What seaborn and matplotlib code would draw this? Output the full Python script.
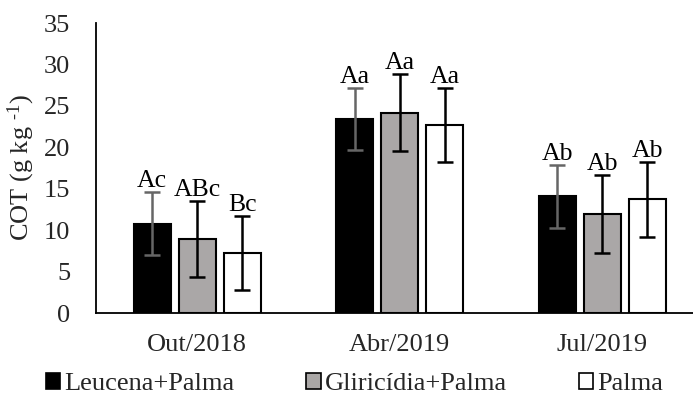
import matplotlib
matplotlib.use("Agg")
import matplotlib.pyplot as plt
import seaborn as sns
import pandas as pd
from matplotlib.patches import Patch

# ---- data ----
periods = ["Out/2018", "Abr/2019", "Jul/2019"]
treatments = ["Leucena+Palma", "Gliricídia+Palma", "Palma"]
leucena_mean = [10.8, 23.4, 14.1]
leucena_sd = [3.8, 3.75, 3.8]
gliricidia_mean = [8.9, 24.15, 11.9]
gliricidia_sd = [4.6, 4.65, 4.7]
palma_mean = [7.25, 22.7, 13.7]
palma_sd = [4.45, 4.45, 4.5]
leucena_letters = ["Ac", "Aa", "Ab"]
gliricidia_letters = ["ABc", "Aa", "Ab"]
palma_letters = ["Bc", "Aa", "Ab"]
yticks = [0, 5, 10, 15, 20, 25, 30, 35]

means = [leucena_mean, gliricidia_mean, palma_mean]
sds = [leucena_sd, gliricidia_sd, palma_sd]
letters = [leucena_letters, gliricidia_letters, palma_letters]

rows = []
for t, m in zip(treatments, means):
    for p, v in zip(periods, m):
        rows.append({"Período": p, "Tratamento": t, "COT": v})
df = pd.DataFrame(rows)

sns.set_style("white")
plt.rcParams["font.family"] = ["Liberation Serif", "DejaVu Serif"]
plt.rcParams["mathtext.fontset"] = "custom"
plt.rcParams["mathtext.rm"] = "Liberation Serif"
plt.rcParams["mathtext.it"] = "Liberation Serif:italic"
plt.rcParams["mathtext.bf"] = "Liberation Serif:bold"

FS = 19

colors = ["#000000", "#aaa7a6", "#ffffff"]
err_colors = ["#666666", "#000000", "#000000"]

fig = plt.figure(figsize=(6.93, 3.94), dpi=100)
ax = fig.add_axes([96 / 693, 1 - 313 / 394, 607.5 / 693, 290 / 394])

sns.barplot(data=df, x="Período", y="COT", hue="Tratamento",
            order=periods, hue_order=treatments, palette=colors,
            width=0.667, gap=0.18, edgecolor="black", linewidth=1.5,
            errorbar=None, legend=False, ax=ax)

bar_conts = list(ax.containers)
for i, cont in enumerate(bar_conts):
    for j, bar in enumerate(cont.patches):
        xc = bar.get_x() + bar.get_width() / 2
        h = bar.get_height()
        ax.errorbar(xc, h, yerr=sds[i][j], fmt="none", ecolor=err_colors[i],
                    elinewidth=1.8, capsize=5.5, capthick=1.8, zorder=5)
        ax.text(xc, h + sds[i][j], letters[i][j], ha="center", va="bottom",
                fontsize=18.5, color="black", zorder=6)

ax.set_ylim(0, 35)
ax.set_xlim(-0.5, 2.5)
ax.set_yticks(yticks)
ax.set_yticklabels([str(v) for v in yticks], fontsize=FS)
ax.tick_params(axis="y", length=0, pad=18.5)
ax.tick_params(axis="x", length=0, pad=15, labelsize=FS)
ax.set_xlabel("")
ax.set_ylabel("COT (g kg $^{\\text{-1}}$)", fontsize=FS, labelpad=5)

for s in ["top", "right"]:
    ax.spines[s].set_visible(False)
for s in ["left", "bottom"]:
    ax.spines[s].set_color("black")
    ax.spines[s].set_linewidth(1.3)

handles = [Patch(facecolor=c, edgecolor="black", linewidth=1.2) for c in colors]
fig.legend(handles, treatments, loc="center", bbox_to_anchor=(354.5 / 693, 1 - 384 / 394),
           ncol=3, frameon=False, fontsize=FS, handlelength=0.55, handleheight=0.55,
           handletextpad=0.15, columnspacing=2.72, borderaxespad=0, borderpad=0)

fig.savefig("out.png", dpi=100)
